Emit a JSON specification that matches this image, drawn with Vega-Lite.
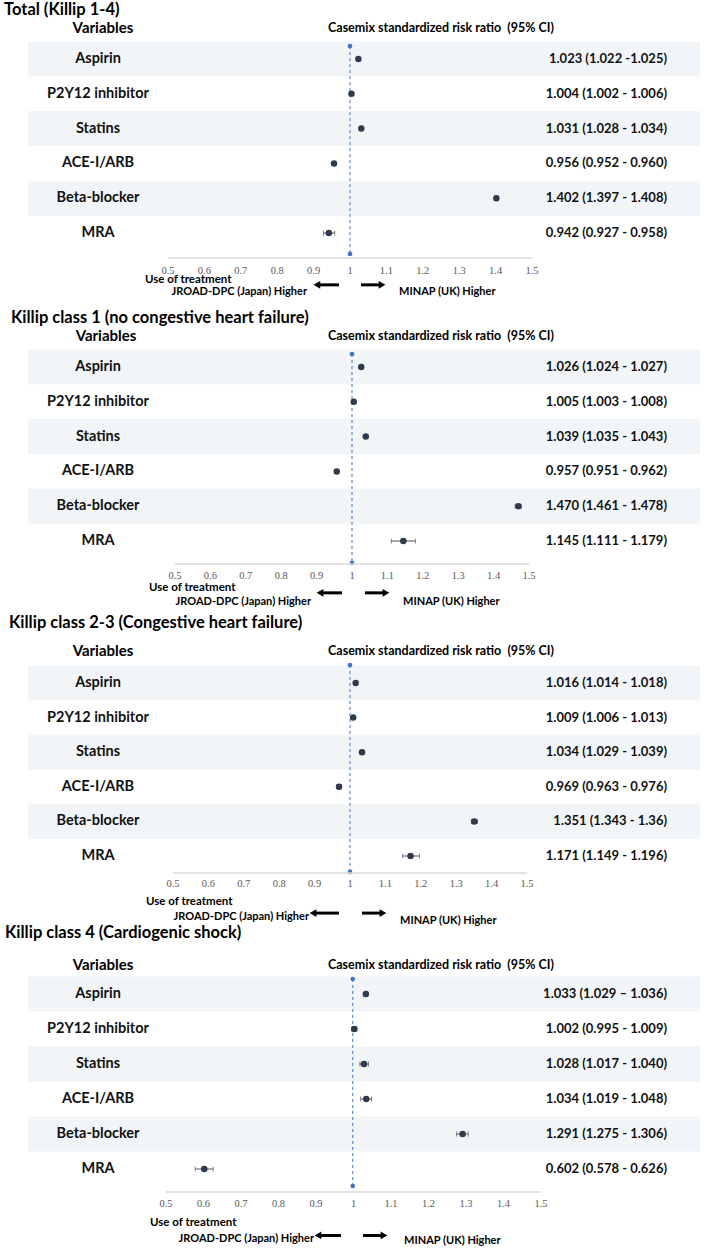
{
"$schema": "https://vega.github.io/schema/vega-lite/v6.json",
"padding": 0,
"spacing": 0,
"bounds": "flush",
"background": "white",
"config": {"view": {"stroke": null}, "axis": {"disable": true}, "font": "Lato"},
"datasets": {
"d": [
{"panel":1,"row":1,"variable":"Aspirin","est":1.023,"lo":1.022,"hi":1.025,"ci":"1.023 (1.022 -1.025)"},
{"panel":1,"row":2,"variable":"P2Y12 inhibitor","est":1.004,"lo":1.002,"hi":1.006,"ci":"1.004 (1.002 - 1.006)"},
{"panel":1,"row":3,"variable":"Statins","est":1.031,"lo":1.028,"hi":1.034,"ci":"1.031 (1.028 - 1.034)"},
{"panel":1,"row":4,"variable":"ACE-I/ARB","est":0.956,"lo":0.952,"hi":0.960,"ci":"0.956 (0.952 - 0.960)"},
{"panel":1,"row":5,"variable":"Beta-blocker","est":1.402,"lo":1.397,"hi":1.408,"ci":"1.402 (1.397 - 1.408)"},
{"panel":1,"row":6,"variable":"MRA","est":0.942,"lo":0.927,"hi":0.958,"ci":"0.942 (0.927 - 0.958)"},
{"panel":2,"row":1,"variable":"Aspirin","est":1.026,"lo":1.024,"hi":1.027,"ci":"1.026 (1.024 - 1.027)"},
{"panel":2,"row":2,"variable":"P2Y12 inhibitor","est":1.005,"lo":1.003,"hi":1.008,"ci":"1.005 (1.003 - 1.008)"},
{"panel":2,"row":3,"variable":"Statins","est":1.039,"lo":1.035,"hi":1.043,"ci":"1.039 (1.035 - 1.043)"},
{"panel":2,"row":4,"variable":"ACE-I/ARB","est":0.957,"lo":0.951,"hi":0.962,"ci":"0.957 (0.951 - 0.962)"},
{"panel":2,"row":5,"variable":"Beta-blocker","est":1.470,"lo":1.461,"hi":1.478,"ci":"1.470 (1.461 - 1.478)"},
{"panel":2,"row":6,"variable":"MRA","est":1.145,"lo":1.111,"hi":1.179,"ci":"1.145 (1.111 - 1.179)"},
{"panel":3,"row":1,"variable":"Aspirin","est":1.016,"lo":1.014,"hi":1.018,"ci":"1.016 (1.014 - 1.018)"},
{"panel":3,"row":2,"variable":"P2Y12 inhibitor","est":1.009,"lo":1.006,"hi":1.013,"ci":"1.009 (1.006 - 1.013)"},
{"panel":3,"row":3,"variable":"Statins","est":1.034,"lo":1.029,"hi":1.039,"ci":"1.034 (1.029 - 1.039)"},
{"panel":3,"row":4,"variable":"ACE-I/ARB","est":0.969,"lo":0.963,"hi":0.976,"ci":"0.969 (0.963 - 0.976)"},
{"panel":3,"row":5,"variable":"Beta-blocker","est":1.351,"lo":1.343,"hi":1.36,"ci":"1.351 (1.343 - 1.36)"},
{"panel":3,"row":6,"variable":"MRA","est":1.171,"lo":1.149,"hi":1.196,"ci":"1.171 (1.149 - 1.196)"},
{"panel":4,"row":1,"variable":"Aspirin","est":1.033,"lo":1.029,"hi":1.036,"ci":"1.033 (1.029 – 1.036)"},
{"panel":4,"row":2,"variable":"P2Y12 inhibitor","est":1.002,"lo":0.995,"hi":1.009,"ci":"1.002 (0.995 - 1.009)"},
{"panel":4,"row":3,"variable":"Statins","est":1.028,"lo":1.017,"hi":1.040,"ci":"1.028 (1.017 - 1.040)"},
{"panel":4,"row":4,"variable":"ACE-I/ARB","est":1.034,"lo":1.019,"hi":1.048,"ci":"1.034 (1.019 - 1.048)"},
{"panel":4,"row":5,"variable":"Beta-blocker","est":1.291,"lo":1.275,"hi":1.306,"ci":"1.291 (1.275 - 1.306)"},
{"panel":4,"row":6,"variable":"MRA","est":0.602,"lo":0.578,"hi":0.626,"ci":"0.602 (0.578 - 0.626)"}
],
"ticks": [{"v":0.5},{"v":0.6},{"v":0.7},{"v":0.8},{"v":0.9},{"v":1},{"v":1.1},{"v":1.2},{"v":1.3},{"v":1.4},{"v":1.5}]
},
"vconcat": [
{
"width": 709, "height": 309,
"layer": [
{"data":{"name":"d"},"transform":[{"filter":"datum.panel == 1 && datum.row % 2 == 1"}],"mark":{"type":"rule","strokeWidth":35,"color":"#f2f5f8","strokeCap":"butt"},"encoding":{"x":{"datum":0.1154,"scale":{"domain":[0.03846,1.98626],"nice":false,"zero":false}},"x2":{"datum":1.9615},"y":{"field":"row","type":"quantitative","scale":{"domain":[-0.695,8.184],"reverse":true,"nice":false,"zero":false}}}},
{"data":{"values":[{}]},"mark":{"type":"rule","color":"#4472c4","strokeDash":[3,3],"strokeWidth":1},"encoding":{"x":{"datum":1,"scale":{"domain":[0.03846,1.98626],"nice":false,"zero":false}},"y":{"datum":0.63,"scale":{"domain":[-0.695,8.184],"reverse":true,"nice":false,"zero":false}},"y2":{"datum":6.6}}},
{"data":{"values":[{}]},"mark":{"type":"circle","color":"#4472c4","size":22,"opacity":1},"encoding":{"x":{"datum":1,"scale":{"domain":[0.03846,1.98626],"nice":false,"zero":false}},"y":{"datum":0.63,"scale":{"domain":[-0.695,8.184],"reverse":true,"nice":false,"zero":false}}}},
{"data":{"values":[{}]},"mark":{"type":"circle","color":"#4472c4","size":22,"opacity":1},"encoding":{"x":{"datum":1,"scale":{"domain":[0.03846,1.98626],"nice":false,"zero":false}},"y":{"datum":6.6,"scale":{"domain":[-0.695,8.184],"reverse":true,"nice":false,"zero":false}}}},
{"data":{"values":[{}]},"mark":{"type":"rule","color":"#d9d9d9","strokeWidth":1.5},"encoding":{"x":{"datum":0.5,"scale":{"domain":[0.03846,1.98626],"nice":false,"zero":false}},"x2":{"datum":1.5},"y":{"datum":6.72,"scale":{"domain":[-0.695,8.184],"reverse":true,"nice":false,"zero":false}}}},
{"data":{"name":"ticks"},"mark":{"type":"text","font":"Liberation Serif","fontSize":10.5,"color":"#595959","baseline":"middle"},"encoding":{"x":{"field":"v","type":"quantitative","scale":{"domain":[0.03846,1.98626],"nice":false,"zero":false}},"y":{"datum":7.1,"scale":{"domain":[-0.695,8.184],"reverse":true,"nice":false,"zero":false}},"text":{"field":"v","type":"quantitative","format":"~g"}}},
{"data":{"name":"d"},"transform":[{"filter":"datum.panel == 1"}],"mark":{"type":"rule","color":"#555555","strokeWidth":1},"encoding":{"x":{"field":"lo","type":"quantitative","scale":{"domain":[0.03846,1.98626],"nice":false,"zero":false}},"x2":{"field":"hi"},"y":{"field":"row","type":"quantitative","scale":{"domain":[-0.695,8.184],"reverse":true,"nice":false,"zero":false}}}},
{"data":{"name":"d"},"transform":[{"filter":"datum.panel == 1"}],"mark":{"type":"tick","orient":"vertical","size":5,"thickness":1,"color":"#555555"},"encoding":{"x":{"field":"lo","type":"quantitative","scale":{"domain":[0.03846,1.98626],"nice":false,"zero":false}},"y":{"field":"row","type":"quantitative","scale":{"domain":[-0.695,8.184],"reverse":true,"nice":false,"zero":false}}}},
{"data":{"name":"d"},"transform":[{"filter":"datum.panel == 1"}],"mark":{"type":"tick","orient":"vertical","size":5,"thickness":1,"color":"#555555"},"encoding":{"x":{"field":"hi","type":"quantitative","scale":{"domain":[0.03846,1.98626],"nice":false,"zero":false}},"y":{"field":"row","type":"quantitative","scale":{"domain":[-0.695,8.184],"reverse":true,"nice":false,"zero":false}}}},
{"data":{"name":"d"},"transform":[{"filter":"datum.panel == 1"}],"mark":{"type":"circle","size":42,"color":"#2f3a4d","opacity":1},"encoding":{"x":{"field":"est","type":"quantitative","scale":{"domain":[0.03846,1.98626],"nice":false,"zero":false}},"y":{"field":"row","type":"quantitative","scale":{"domain":[-0.695,8.184],"reverse":true,"nice":false,"zero":false}}}},
{"data":{"name":"d"},"transform":[{"filter":"datum.panel == 1"}],"mark":{"type":"text","font":"Lato","fontWeight":"bold","fontSize":14.5,"baseline":"middle","align":"center","color":"#111111"},"encoding":{"x":{"datum":0.3077,"scale":{"domain":[0.03846,1.98626],"nice":false,"zero":false}},"y":{"field":"row","type":"quantitative","scale":{"domain":[-0.695,8.184],"reverse":true,"nice":false,"zero":false}},"text":{"field":"variable"}}},
{"data":{"name":"d"},"transform":[{"filter":"datum.panel == 1"}],"mark":{"type":"text","font":"Lato","fontWeight":"bold","fontSize":13,"baseline":"middle","align":"right","color":"#111111"},"encoding":{"x":{"datum":1.8709,"scale":{"domain":[0.03846,1.98626],"nice":false,"zero":false}},"y":{"field":"row","type":"quantitative","scale":{"domain":[-0.695,8.184],"reverse":true,"nice":false,"zero":false}},"text":{"field":"ci"}}},
{"data":{"values":[{}]},"mark":{"type":"text","font":"Lato","fontWeight":"bold","fontSize":16.5,"baseline":"middle","align":"left","color":"#000000"},"encoding":{"x":{"datum":0.0495,"scale":{"domain":[0.03846,1.98626],"nice":false,"zero":false}},"y":{"datum":-0.408,"scale":{"domain":[-0.695,8.184],"reverse":true,"nice":false,"zero":false}},"text":{"value":"Total (Killip 1-4)"}}},
{"data":{"values":[{}]},"mark":{"type":"text","font":"Lato","fontWeight":"bold","fontSize":15,"baseline":"middle","align":"center","color":"#000000"},"encoding":{"x":{"datum":0.3214,"scale":{"domain":[0.03846,1.98626],"nice":false,"zero":false}},"y":{"datum":0.109,"scale":{"domain":[-0.695,8.184],"reverse":true,"nice":false,"zero":false}},"text":{"value":"Variables"}}},
{"data":{"values":[{}]},"mark":{"type":"text","font":"Lato","fontWeight":"bold","fontSize":12.5,"baseline":"middle","align":"center","color":"#000000"},"encoding":{"x":{"datum":1.25,"scale":{"domain":[0.03846,1.98626],"nice":false,"zero":false}},"y":{"datum":0.109,"scale":{"domain":[-0.695,8.184],"reverse":true,"nice":false,"zero":false}},"text":{"value":"Casemix standardized risk ratio \u00a0(95% CI)"}}},
{"data":{"values":[{}]},"mark":{"type":"text","font":"Lato","fontWeight":"bold","fontSize":11.5,"baseline":"middle","align":"left","color":"#000000"},"encoding":{"x":{"datum":0.4368,"scale":{"domain":[0.03846,1.98626],"nice":false,"zero":false}},"y":{"datum":7.35,"scale":{"domain":[-0.695,8.184],"reverse":true,"nice":false,"zero":false}},"text":{"value":"Use of treatment"}}},
{"data":{"values":[{}]},"mark":{"type":"text","font":"Lato","fontWeight":"bold","fontSize":11,"baseline":"middle","align":"right","color":"#000000"},"encoding":{"x":{"datum":0.8819,"scale":{"domain":[0.03846,1.98626],"nice":false,"zero":false}},"y":{"datum":7.7,"scale":{"domain":[-0.695,8.184],"reverse":true,"nice":false,"zero":false}},"text":{"value":"JROAD-DPC (Japan) Higher"}}},
{"data":{"values":[{}]},"mark":{"type":"text","font":"Lato","fontWeight":"bold","fontSize":11,"baseline":"middle","align":"left","color":"#000000"},"encoding":{"x":{"datum":1.1346,"scale":{"domain":[0.03846,1.98626],"nice":false,"zero":false}},"y":{"datum":7.7,"scale":{"domain":[-0.695,8.184],"reverse":true,"nice":false,"zero":false}},"text":{"value":"MINAP (UK) Higher"}}},
{"data":{"values":[{}]},"mark":{"type":"rule","color":"#000000","strokeWidth":3},"encoding":{"x":{"datum":0.909,"scale":{"domain":[0.03846,1.98626],"nice":false,"zero":false}},"x2":{"datum":0.9698},"y":{"datum":7.49,"scale":{"domain":[-0.695,8.184],"reverse":true,"nice":false,"zero":false}}}},
{"data":{"values":[{}]},"mark":{"type":"point","shape":"triangle-left","filled":true,"size":60,"color":"#000000","opacity":1},"encoding":{"x":{"datum":0.909,"scale":{"domain":[0.03846,1.98626],"nice":false,"zero":false}},"y":{"datum":7.49,"scale":{"domain":[-0.695,8.184],"reverse":true,"nice":false,"zero":false}}}},
{"data":{"values":[{}]},"mark":{"type":"rule","color":"#000000","strokeWidth":3},"encoding":{"x":{"datum":1.0302,"scale":{"domain":[0.03846,1.98626],"nice":false,"zero":false}},"x2":{"datum":1.088},"y":{"datum":7.49,"scale":{"domain":[-0.695,8.184],"reverse":true,"nice":false,"zero":false}}}},
{"data":{"values":[{}]},"mark":{"type":"point","shape":"triangle-right","filled":true,"size":60,"color":"#000000","opacity":1},"encoding":{"x":{"datum":1.088,"scale":{"domain":[0.03846,1.98626],"nice":false,"zero":false}},"y":{"datum":7.49,"scale":{"domain":[-0.695,8.184],"reverse":true,"nice":false,"zero":false}}}}
]
},
{
"width": 709, "height": 309,
"layer": [
{"data":{"name":"d"},"transform":[{"filter":"datum.panel == 2 && datum.row % 2 == 1"}],"mark":{"type":"rule","strokeWidth":35,"color":"#f2f5f8","strokeCap":"butt"},"encoding":{"x":{"datum":0.0847,"scale":{"domain":[0.00565,2.00847],"nice":false,"zero":false}},"x2":{"datum":1.9831},"y":{"field":"row","type":"quantitative","scale":{"domain":[-0.667,8.213],"reverse":true,"nice":false,"zero":false}}}},
{"data":{"values":[{}]},"mark":{"type":"rule","color":"#4472c4","strokeDash":[3,3],"strokeWidth":1},"encoding":{"x":{"datum":1,"scale":{"domain":[0.00565,2.00847],"nice":false,"zero":false}},"y":{"datum":0.626,"scale":{"domain":[-0.667,8.213],"reverse":true,"nice":false,"zero":false}},"y2":{"datum":6.63}}},
{"data":{"values":[{}]},"mark":{"type":"circle","color":"#4472c4","size":22,"opacity":1},"encoding":{"x":{"datum":1,"scale":{"domain":[0.00565,2.00847],"nice":false,"zero":false}},"y":{"datum":0.626,"scale":{"domain":[-0.667,8.213],"reverse":true,"nice":false,"zero":false}}}},
{"data":{"values":[{}]},"mark":{"type":"circle","color":"#4472c4","size":22,"opacity":1},"encoding":{"x":{"datum":1,"scale":{"domain":[0.00565,2.00847],"nice":false,"zero":false}},"y":{"datum":6.63,"scale":{"domain":[-0.667,8.213],"reverse":true,"nice":false,"zero":false}}}},
{"data":{"values":[{}]},"mark":{"type":"rule","color":"#d9d9d9","strokeWidth":1.5},"encoding":{"x":{"datum":0.5,"scale":{"domain":[0.00565,2.00847],"nice":false,"zero":false}},"x2":{"datum":1.5},"y":{"datum":6.66,"scale":{"domain":[-0.667,8.213],"reverse":true,"nice":false,"zero":false}}}},
{"data":{"name":"ticks"},"mark":{"type":"text","font":"Liberation Serif","fontSize":10.5,"color":"#595959","baseline":"middle"},"encoding":{"x":{"field":"v","type":"quantitative","scale":{"domain":[0.00565,2.00847],"nice":false,"zero":false}},"y":{"datum":7.01,"scale":{"domain":[-0.667,8.213],"reverse":true,"nice":false,"zero":false}},"text":{"field":"v","type":"quantitative","format":"~g"}}},
{"data":{"name":"d"},"transform":[{"filter":"datum.panel == 2"}],"mark":{"type":"rule","color":"#555555","strokeWidth":1},"encoding":{"x":{"field":"lo","type":"quantitative","scale":{"domain":[0.00565,2.00847],"nice":false,"zero":false}},"x2":{"field":"hi"},"y":{"field":"row","type":"quantitative","scale":{"domain":[-0.667,8.213],"reverse":true,"nice":false,"zero":false}}}},
{"data":{"name":"d"},"transform":[{"filter":"datum.panel == 2"}],"mark":{"type":"tick","orient":"vertical","size":5,"thickness":1,"color":"#555555"},"encoding":{"x":{"field":"lo","type":"quantitative","scale":{"domain":[0.00565,2.00847],"nice":false,"zero":false}},"y":{"field":"row","type":"quantitative","scale":{"domain":[-0.667,8.213],"reverse":true,"nice":false,"zero":false}}}},
{"data":{"name":"d"},"transform":[{"filter":"datum.panel == 2"}],"mark":{"type":"tick","orient":"vertical","size":5,"thickness":1,"color":"#555555"},"encoding":{"x":{"field":"hi","type":"quantitative","scale":{"domain":[0.00565,2.00847],"nice":false,"zero":false}},"y":{"field":"row","type":"quantitative","scale":{"domain":[-0.667,8.213],"reverse":true,"nice":false,"zero":false}}}},
{"data":{"name":"d"},"transform":[{"filter":"datum.panel == 2"}],"mark":{"type":"circle","size":42,"color":"#2f3a4d","opacity":1},"encoding":{"x":{"field":"est","type":"quantitative","scale":{"domain":[0.00565,2.00847],"nice":false,"zero":false}},"y":{"field":"row","type":"quantitative","scale":{"domain":[-0.667,8.213],"reverse":true,"nice":false,"zero":false}}}},
{"data":{"name":"d"},"transform":[{"filter":"datum.panel == 2"}],"mark":{"type":"text","font":"Lato","fontWeight":"bold","fontSize":14.5,"baseline":"middle","align":"center","color":"#111111"},"encoding":{"x":{"datum":0.2825,"scale":{"domain":[0.00565,2.00847],"nice":false,"zero":false}},"y":{"field":"row","type":"quantitative","scale":{"domain":[-0.667,8.213],"reverse":true,"nice":false,"zero":false}},"text":{"field":"variable"}}},
{"data":{"name":"d"},"transform":[{"filter":"datum.panel == 2"}],"mark":{"type":"text","font":"Lato","fontWeight":"bold","fontSize":13,"baseline":"middle","align":"right","color":"#111111"},"encoding":{"x":{"datum":1.8898,"scale":{"domain":[0.00565,2.00847],"nice":false,"zero":false}},"y":{"field":"row","type":"quantitative","scale":{"domain":[-0.667,8.213],"reverse":true,"nice":false,"zero":false}},"text":{"field":"ci"}}},
{"data":{"values":[{}]},"mark":{"type":"text","font":"Lato","fontWeight":"bold","fontSize":16.5,"baseline":"middle","align":"left","color":"#000000"},"encoding":{"x":{"datum":0.0367,"scale":{"domain":[0.00565,2.00847],"nice":false,"zero":false}},"y":{"datum":-0.408,"scale":{"domain":[-0.667,8.213],"reverse":true,"nice":false,"zero":false}},"text":{"value":"Killip class 1 (no congestive heart failure)"}}},
{"data":{"values":[{}]},"mark":{"type":"text","font":"Lato","fontWeight":"bold","fontSize":15,"baseline":"middle","align":"center","color":"#000000"},"encoding":{"x":{"datum":0.3051,"scale":{"domain":[0.00565,2.00847],"nice":false,"zero":false}},"y":{"datum":0.109,"scale":{"domain":[-0.667,8.213],"reverse":true,"nice":false,"zero":false}},"text":{"value":"Variables"}}},
{"data":{"values":[{}]},"mark":{"type":"text","font":"Lato","fontWeight":"bold","fontSize":12.5,"baseline":"middle","align":"center","color":"#000000"},"encoding":{"x":{"datum":1.2514,"scale":{"domain":[0.00565,2.00847],"nice":false,"zero":false}},"y":{"datum":0.109,"scale":{"domain":[-0.667,8.213],"reverse":true,"nice":false,"zero":false}},"text":{"value":"Casemix standardized risk ratio \u00a0(95% CI)"}}},
{"data":{"values":[{}]},"mark":{"type":"text","font":"Lato","fontWeight":"bold","fontSize":11.5,"baseline":"middle","align":"left","color":"#000000"},"encoding":{"x":{"datum":0.4266,"scale":{"domain":[0.00565,2.00847],"nice":false,"zero":false}},"y":{"datum":7.35,"scale":{"domain":[-0.667,8.213],"reverse":true,"nice":false,"zero":false}},"text":{"value":"Use of treatment"}}},
{"data":{"values":[{}]},"mark":{"type":"text","font":"Lato","fontWeight":"bold","fontSize":11,"baseline":"middle","align":"right","color":"#000000"},"encoding":{"x":{"datum":0.8842,"scale":{"domain":[0.00565,2.00847],"nice":false,"zero":false}},"y":{"datum":7.75,"scale":{"domain":[-0.667,8.213],"reverse":true,"nice":false,"zero":false}},"text":{"value":"JROAD-DPC (Japan) Higher"}}},
{"data":{"values":[{}]},"mark":{"type":"text","font":"Lato","fontWeight":"bold","fontSize":11,"baseline":"middle","align":"left","color":"#000000"},"encoding":{"x":{"datum":1.1441,"scale":{"domain":[0.00565,2.00847],"nice":false,"zero":false}},"y":{"datum":7.75,"scale":{"domain":[-0.667,8.213],"reverse":true,"nice":false,"zero":false}},"text":{"value":"MINAP (UK) Higher"}}},
{"data":{"values":[{}]},"mark":{"type":"rule","color":"#000000","strokeWidth":3},"encoding":{"x":{"datum":0.9096,"scale":{"domain":[0.00565,2.00847],"nice":false,"zero":false}},"x2":{"datum":0.9718},"y":{"datum":7.49,"scale":{"domain":[-0.667,8.213],"reverse":true,"nice":false,"zero":false}}}},
{"data":{"values":[{}]},"mark":{"type":"point","shape":"triangle-left","filled":true,"size":60,"color":"#000000","opacity":1},"encoding":{"x":{"datum":0.9096,"scale":{"domain":[0.00565,2.00847],"nice":false,"zero":false}},"y":{"datum":7.49,"scale":{"domain":[-0.667,8.213],"reverse":true,"nice":false,"zero":false}}}},
{"data":{"values":[{}]},"mark":{"type":"rule","color":"#000000","strokeWidth":3},"encoding":{"x":{"datum":1.0367,"scale":{"domain":[0.00565,2.00847],"nice":false,"zero":false}},"x2":{"datum":1.096},"y":{"datum":7.49,"scale":{"domain":[-0.667,8.213],"reverse":true,"nice":false,"zero":false}}}},
{"data":{"values":[{}]},"mark":{"type":"point","shape":"triangle-right","filled":true,"size":60,"color":"#000000","opacity":1},"encoding":{"x":{"datum":1.096,"scale":{"domain":[0.00565,2.00847],"nice":false,"zero":false}},"y":{"datum":7.49,"scale":{"domain":[-0.667,8.213],"reverse":true,"nice":false,"zero":false}}}}
]
},
{
"width": 709, "height": 309,
"layer": [
{"data":{"name":"d"},"transform":[{"filter":"datum.panel == 3 && datum.row % 2 == 1"}],"mark":{"type":"rule","strokeWidth":35,"color":"#f2f5f8","strokeCap":"butt"},"encoding":{"x":{"datum":0.0904,"scale":{"domain":[0.0113,2.01412],"nice":false,"zero":false}},"x2":{"datum":1.9887},"y":{"field":"row","type":"quantitative","scale":{"domain":[-0.879,8.052],"reverse":true,"nice":false,"zero":false}}}},
{"data":{"values":[{}]},"mark":{"type":"rule","color":"#4472c4","strokeDash":[3,3],"strokeWidth":1},"encoding":{"x":{"datum":1,"scale":{"domain":[0.0113,2.01412],"nice":false,"zero":false}},"y":{"datum":0.48,"scale":{"domain":[-0.879,8.052],"reverse":true,"nice":false,"zero":false}},"y2":{"datum":6.46}}},
{"data":{"values":[{}]},"mark":{"type":"circle","color":"#4472c4","size":22,"opacity":1},"encoding":{"x":{"datum":1,"scale":{"domain":[0.0113,2.01412],"nice":false,"zero":false}},"y":{"datum":0.48,"scale":{"domain":[-0.879,8.052],"reverse":true,"nice":false,"zero":false}}}},
{"data":{"values":[{}]},"mark":{"type":"circle","color":"#4472c4","size":22,"opacity":1},"encoding":{"x":{"datum":1,"scale":{"domain":[0.0113,2.01412],"nice":false,"zero":false}},"y":{"datum":6.46,"scale":{"domain":[-0.879,8.052],"reverse":true,"nice":false,"zero":false}}}},
{"data":{"values":[{}]},"mark":{"type":"rule","color":"#d9d9d9","strokeWidth":1.5},"encoding":{"x":{"datum":0.5,"scale":{"domain":[0.0113,2.01412],"nice":false,"zero":false}},"x2":{"datum":1.5},"y":{"datum":6.49,"scale":{"domain":[-0.879,8.052],"reverse":true,"nice":false,"zero":false}}}},
{"data":{"name":"ticks"},"mark":{"type":"text","font":"Liberation Serif","fontSize":10.5,"color":"#595959","baseline":"middle"},"encoding":{"x":{"field":"v","type":"quantitative","scale":{"domain":[0.0113,2.01412],"nice":false,"zero":false}},"y":{"datum":6.8,"scale":{"domain":[-0.879,8.052],"reverse":true,"nice":false,"zero":false}},"text":{"field":"v","type":"quantitative","format":"~g"}}},
{"data":{"name":"d"},"transform":[{"filter":"datum.panel == 3"}],"mark":{"type":"rule","color":"#555555","strokeWidth":1},"encoding":{"x":{"field":"lo","type":"quantitative","scale":{"domain":[0.0113,2.01412],"nice":false,"zero":false}},"x2":{"field":"hi"},"y":{"field":"row","type":"quantitative","scale":{"domain":[-0.879,8.052],"reverse":true,"nice":false,"zero":false}}}},
{"data":{"name":"d"},"transform":[{"filter":"datum.panel == 3"}],"mark":{"type":"tick","orient":"vertical","size":5,"thickness":1,"color":"#555555"},"encoding":{"x":{"field":"lo","type":"quantitative","scale":{"domain":[0.0113,2.01412],"nice":false,"zero":false}},"y":{"field":"row","type":"quantitative","scale":{"domain":[-0.879,8.052],"reverse":true,"nice":false,"zero":false}}}},
{"data":{"name":"d"},"transform":[{"filter":"datum.panel == 3"}],"mark":{"type":"tick","orient":"vertical","size":5,"thickness":1,"color":"#555555"},"encoding":{"x":{"field":"hi","type":"quantitative","scale":{"domain":[0.0113,2.01412],"nice":false,"zero":false}},"y":{"field":"row","type":"quantitative","scale":{"domain":[-0.879,8.052],"reverse":true,"nice":false,"zero":false}}}},
{"data":{"name":"d"},"transform":[{"filter":"datum.panel == 3"}],"mark":{"type":"circle","size":42,"color":"#2f3a4d","opacity":1},"encoding":{"x":{"field":"est","type":"quantitative","scale":{"domain":[0.0113,2.01412],"nice":false,"zero":false}},"y":{"field":"row","type":"quantitative","scale":{"domain":[-0.879,8.052],"reverse":true,"nice":false,"zero":false}}}},
{"data":{"name":"d"},"transform":[{"filter":"datum.panel == 3"}],"mark":{"type":"text","font":"Lato","fontWeight":"bold","fontSize":14.5,"baseline":"middle","align":"center","color":"#111111"},"encoding":{"x":{"datum":0.2881,"scale":{"domain":[0.0113,2.01412],"nice":false,"zero":false}},"y":{"field":"row","type":"quantitative","scale":{"domain":[-0.879,8.052],"reverse":true,"nice":false,"zero":false}},"text":{"field":"variable"}}},
{"data":{"name":"d"},"transform":[{"filter":"datum.panel == 3"}],"mark":{"type":"text","font":"Lato","fontWeight":"bold","fontSize":13,"baseline":"middle","align":"right","color":"#111111"},"encoding":{"x":{"datum":1.8955,"scale":{"domain":[0.0113,2.01412],"nice":false,"zero":false}},"y":{"field":"row","type":"quantitative","scale":{"domain":[-0.879,8.052],"reverse":true,"nice":false,"zero":false}},"text":{"field":"ci"}}},
{"data":{"values":[{}]},"mark":{"type":"text","font":"Lato","fontWeight":"bold","fontSize":16.5,"baseline":"middle","align":"left","color":"#000000"},"encoding":{"x":{"datum":0.0367,"scale":{"domain":[0.0113,2.01412],"nice":false,"zero":false}},"y":{"datum":-0.734,"scale":{"domain":[-0.879,8.052],"reverse":true,"nice":false,"zero":false}},"text":{"value":"Killip class 2-3 (Congestive heart failure)"}}},
{"data":{"values":[{}]},"mark":{"type":"text","font":"Lato","fontWeight":"bold","fontSize":15,"baseline":"middle","align":"center","color":"#000000"},"encoding":{"x":{"datum":0.3023,"scale":{"domain":[0.0113,2.01412],"nice":false,"zero":false}},"y":{"datum":0.075,"scale":{"domain":[-0.879,8.052],"reverse":true,"nice":false,"zero":false}},"text":{"value":"Variables"}}},
{"data":{"values":[{}]},"mark":{"type":"text","font":"Lato","fontWeight":"bold","fontSize":12.5,"baseline":"middle","align":"center","color":"#000000"},"encoding":{"x":{"datum":1.2571,"scale":{"domain":[0.0113,2.01412],"nice":false,"zero":false}},"y":{"datum":0.075,"scale":{"domain":[-0.879,8.052],"reverse":true,"nice":false,"zero":false}},"text":{"value":"Casemix standardized risk ratio \u00a0(95% CI)"}}},
{"data":{"values":[{}]},"mark":{"type":"text","font":"Lato","fontWeight":"bold","fontSize":11.5,"baseline":"middle","align":"left","color":"#000000"},"encoding":{"x":{"datum":0.4237,"scale":{"domain":[0.0113,2.01412],"nice":false,"zero":false}},"y":{"datum":7.33,"scale":{"domain":[-0.879,8.052],"reverse":true,"nice":false,"zero":false}},"text":{"value":"Use of treatment"}}},
{"data":{"values":[{}]},"mark":{"type":"text","font":"Lato","fontWeight":"bold","fontSize":11,"baseline":"middle","align":"right","color":"#000000"},"encoding":{"x":{"datum":0.8842,"scale":{"domain":[0.0113,2.01412],"nice":false,"zero":false}},"y":{"datum":7.76,"scale":{"domain":[-0.879,8.052],"reverse":true,"nice":false,"zero":false}},"text":{"value":"JROAD-DPC (Japan) Higher"}}},
{"data":{"values":[{}]},"mark":{"type":"text","font":"Lato","fontWeight":"bold","fontSize":11,"baseline":"middle","align":"left","color":"#000000"},"encoding":{"x":{"datum":1.1412,"scale":{"domain":[0.0113,2.01412],"nice":false,"zero":false}},"y":{"datum":7.88,"scale":{"domain":[-0.879,8.052],"reverse":true,"nice":false,"zero":false}},"text":{"value":"MINAP (UK) Higher"}}},
{"data":{"values":[{}]},"mark":{"type":"rule","color":"#000000","strokeWidth":3},"encoding":{"x":{"datum":0.8955,"scale":{"domain":[0.0113,2.01412],"nice":false,"zero":false}},"x2":{"datum":0.9689},"y":{"datum":7.65,"scale":{"domain":[-0.879,8.052],"reverse":true,"nice":false,"zero":false}}}},
{"data":{"values":[{}]},"mark":{"type":"point","shape":"triangle-left","filled":true,"size":60,"color":"#000000","opacity":1},"encoding":{"x":{"datum":0.8955,"scale":{"domain":[0.0113,2.01412],"nice":false,"zero":false}},"y":{"datum":7.65,"scale":{"domain":[-0.879,8.052],"reverse":true,"nice":false,"zero":false}}}},
{"data":{"values":[{}]},"mark":{"type":"rule","color":"#000000","strokeWidth":3},"encoding":{"x":{"datum":1.0339,"scale":{"domain":[0.0113,2.01412],"nice":false,"zero":false}},"x2":{"datum":1.0932},"y":{"datum":7.65,"scale":{"domain":[-0.879,8.052],"reverse":true,"nice":false,"zero":false}}}},
{"data":{"values":[{}]},"mark":{"type":"point","shape":"triangle-right","filled":true,"size":60,"color":"#000000","opacity":1},"encoding":{"x":{"datum":1.0932,"scale":{"domain":[0.0113,2.01412],"nice":false,"zero":false}},"y":{"datum":7.65,"scale":{"domain":[-0.879,8.052],"reverse":true,"nice":false,"zero":false}}}}
]
},
{
"width": 709, "height": 324,
"layer": [
{"data":{"name":"d"},"transform":[{"filter":"datum.panel == 4 && datum.row % 2 == 1"}],"mark":{"type":"rule","strokeWidth":35,"color":"#f2f5f8","strokeCap":"butt"},"encoding":{"x":{"datum":0.132,"scale":{"domain":[0.05733,1.948],"nice":false,"zero":false}},"x2":{"datum":1.924},"y":{"field":"row","type":"quantitative","scale":{"domain":[-0.914,8.343],"reverse":true,"nice":false,"zero":false}}}},
{"data":{"values":[{}]},"mark":{"type":"rule","color":"#4472c4","strokeDash":[3,3],"strokeWidth":1},"encoding":{"x":{"datum":0.998,"scale":{"domain":[0.05733,1.948],"nice":false,"zero":false}},"y":{"datum":0.571,"scale":{"domain":[-0.914,8.343],"reverse":true,"nice":false,"zero":false}},"y2":{"datum":6.486}}},
{"data":{"values":[{}]},"mark":{"type":"circle","color":"#4472c4","size":22,"opacity":1},"encoding":{"x":{"datum":0.998,"scale":{"domain":[0.05733,1.948],"nice":false,"zero":false}},"y":{"datum":0.571,"scale":{"domain":[-0.914,8.343],"reverse":true,"nice":false,"zero":false}}}},
{"data":{"values":[{}]},"mark":{"type":"circle","color":"#4472c4","size":22,"opacity":1},"encoding":{"x":{"datum":0.998,"scale":{"domain":[0.05733,1.948],"nice":false,"zero":false}},"y":{"datum":6.486,"scale":{"domain":[-0.914,8.343],"reverse":true,"nice":false,"zero":false}}}},
{"data":{"values":[{}]},"mark":{"type":"rule","color":"#d9d9d9","strokeWidth":1.5},"encoding":{"x":{"datum":0.5,"scale":{"domain":[0.05733,1.948],"nice":false,"zero":false}},"x2":{"datum":1.5},"y":{"datum":6.657,"scale":{"domain":[-0.914,8.343],"reverse":true,"nice":false,"zero":false}}}},
{"data":{"name":"ticks"},"mark":{"type":"text","font":"Liberation Serif","fontSize":10.5,"color":"#595959","baseline":"middle"},"encoding":{"x":{"field":"v","type":"quantitative","scale":{"domain":[0.05733,1.948],"nice":false,"zero":false}},"y":{"datum":7.0,"scale":{"domain":[-0.914,8.343],"reverse":true,"nice":false,"zero":false}},"text":{"field":"v","type":"quantitative","format":"~g"}}},
{"data":{"name":"d"},"transform":[{"filter":"datum.panel == 4"}],"mark":{"type":"rule","color":"#555555","strokeWidth":1},"encoding":{"x":{"field":"lo","type":"quantitative","scale":{"domain":[0.05733,1.948],"nice":false,"zero":false}},"x2":{"field":"hi"},"y":{"field":"row","type":"quantitative","scale":{"domain":[-0.914,8.343],"reverse":true,"nice":false,"zero":false}}}},
{"data":{"name":"d"},"transform":[{"filter":"datum.panel == 4"}],"mark":{"type":"tick","orient":"vertical","size":5,"thickness":1,"color":"#555555"},"encoding":{"x":{"field":"lo","type":"quantitative","scale":{"domain":[0.05733,1.948],"nice":false,"zero":false}},"y":{"field":"row","type":"quantitative","scale":{"domain":[-0.914,8.343],"reverse":true,"nice":false,"zero":false}}}},
{"data":{"name":"d"},"transform":[{"filter":"datum.panel == 4"}],"mark":{"type":"tick","orient":"vertical","size":5,"thickness":1,"color":"#555555"},"encoding":{"x":{"field":"hi","type":"quantitative","scale":{"domain":[0.05733,1.948],"nice":false,"zero":false}},"y":{"field":"row","type":"quantitative","scale":{"domain":[-0.914,8.343],"reverse":true,"nice":false,"zero":false}}}},
{"data":{"name":"d"},"transform":[{"filter":"datum.panel == 4"}],"mark":{"type":"circle","size":42,"color":"#2f3a4d","opacity":1},"encoding":{"x":{"field":"est","type":"quantitative","scale":{"domain":[0.05733,1.948],"nice":false,"zero":false}},"y":{"field":"row","type":"quantitative","scale":{"domain":[-0.914,8.343],"reverse":true,"nice":false,"zero":false}}}},
{"data":{"name":"d"},"transform":[{"filter":"datum.panel == 4"}],"mark":{"type":"text","font":"Lato","fontWeight":"bold","fontSize":14.5,"baseline":"middle","align":"center","color":"#111111"},"encoding":{"x":{"datum":0.3187,"scale":{"domain":[0.05733,1.948],"nice":false,"zero":false}},"y":{"field":"row","type":"quantitative","scale":{"domain":[-0.914,8.343],"reverse":true,"nice":false,"zero":false}},"text":{"field":"variable"}}},
{"data":{"name":"d"},"transform":[{"filter":"datum.panel == 4"}],"mark":{"type":"text","font":"Lato","fontWeight":"bold","fontSize":13,"baseline":"middle","align":"right","color":"#111111"},"encoding":{"x":{"datum":1.836,"scale":{"domain":[0.05733,1.948],"nice":false,"zero":false}},"y":{"field":"row","type":"quantitative","scale":{"domain":[-0.914,8.343],"reverse":true,"nice":false,"zero":false}},"text":{"field":"ci"}}},
{"data":{"values":[{}]},"mark":{"type":"text","font":"Lato","fontWeight":"bold","fontSize":16.5,"baseline":"middle","align":"left","color":"#000000"},"encoding":{"x":{"datum":0.0707,"scale":{"domain":[0.05733,1.948],"nice":false,"zero":false}},"y":{"datum":-0.743,"scale":{"domain":[-0.914,8.343],"reverse":true,"nice":false,"zero":false}},"text":{"value":"Killip class 4 (Cardiogenic shock)"}}},
{"data":{"values":[{}]},"mark":{"type":"text","font":"Lato","fontWeight":"bold","fontSize":15,"baseline":"middle","align":"center","color":"#000000"},"encoding":{"x":{"datum":0.332,"scale":{"domain":[0.05733,1.948],"nice":false,"zero":false}},"y":{"datum":0.171,"scale":{"domain":[-0.914,8.343],"reverse":true,"nice":false,"zero":false}},"text":{"value":"Variables"}}},
{"data":{"values":[{}]},"mark":{"type":"text","font":"Lato","fontWeight":"bold","fontSize":12.5,"baseline":"middle","align":"center","color":"#000000"},"encoding":{"x":{"datum":1.2333,"scale":{"domain":[0.05733,1.948],"nice":false,"zero":false}},"y":{"datum":0.171,"scale":{"domain":[-0.914,8.343],"reverse":true,"nice":false,"zero":false}},"text":{"value":"Casemix standardized risk ratio \u00a0(95% CI)"}}},
{"data":{"values":[{}]},"mark":{"type":"text","font":"Lato","fontWeight":"bold","fontSize":11.5,"baseline":"middle","align":"left","color":"#000000"},"encoding":{"x":{"datum":0.4573,"scale":{"domain":[0.05733,1.948],"nice":false,"zero":false}},"y":{"datum":7.543,"scale":{"domain":[-0.914,8.343],"reverse":true,"nice":false,"zero":false}},"text":{"value":"Use of treatment"}}},
{"data":{"values":[{}]},"mark":{"type":"text","font":"Lato","fontWeight":"bold","fontSize":11,"baseline":"middle","align":"right","color":"#000000"},"encoding":{"x":{"datum":0.8947,"scale":{"domain":[0.05733,1.948],"nice":false,"zero":false}},"y":{"datum":8.0,"scale":{"domain":[-0.914,8.343],"reverse":true,"nice":false,"zero":false}},"text":{"value":"JROAD-DPC (Japan) Higher"}}},
{"data":{"values":[{}]},"mark":{"type":"text","font":"Lato","fontWeight":"bold","fontSize":11,"baseline":"middle","align":"left","color":"#000000"},"encoding":{"x":{"datum":1.1347,"scale":{"domain":[0.05733,1.948],"nice":false,"zero":false}},"y":{"datum":8.07,"scale":{"domain":[-0.914,8.343],"reverse":true,"nice":false,"zero":false}},"text":{"value":"MINAP (UK) Higher"}}},
{"data":{"values":[{}]},"mark":{"type":"rule","color":"#000000","strokeWidth":3},"encoding":{"x":{"datum":0.9053,"scale":{"domain":[0.05733,1.948],"nice":false,"zero":false}},"x2":{"datum":0.9667},"y":{"datum":7.9,"scale":{"domain":[-0.914,8.343],"reverse":true,"nice":false,"zero":false}}}},
{"data":{"values":[{}]},"mark":{"type":"point","shape":"triangle-left","filled":true,"size":60,"color":"#000000","opacity":1},"encoding":{"x":{"datum":0.9053,"scale":{"domain":[0.05733,1.948],"nice":false,"zero":false}},"y":{"datum":7.9,"scale":{"domain":[-0.914,8.343],"reverse":true,"nice":false,"zero":false}}}},
{"data":{"values":[{}]},"mark":{"type":"rule","color":"#000000","strokeWidth":3},"encoding":{"x":{"datum":1.0253,"scale":{"domain":[0.05733,1.948],"nice":false,"zero":false}},"x2":{"datum":1.0813},"y":{"datum":7.9,"scale":{"domain":[-0.914,8.343],"reverse":true,"nice":false,"zero":false}}}},
{"data":{"values":[{}]},"mark":{"type":"point","shape":"triangle-right","filled":true,"size":60,"color":"#000000","opacity":1},"encoding":{"x":{"datum":1.0813,"scale":{"domain":[0.05733,1.948],"nice":false,"zero":false}},"y":{"datum":7.9,"scale":{"domain":[-0.914,8.343],"reverse":true,"nice":false,"zero":false}}}}
]
}
]
}
